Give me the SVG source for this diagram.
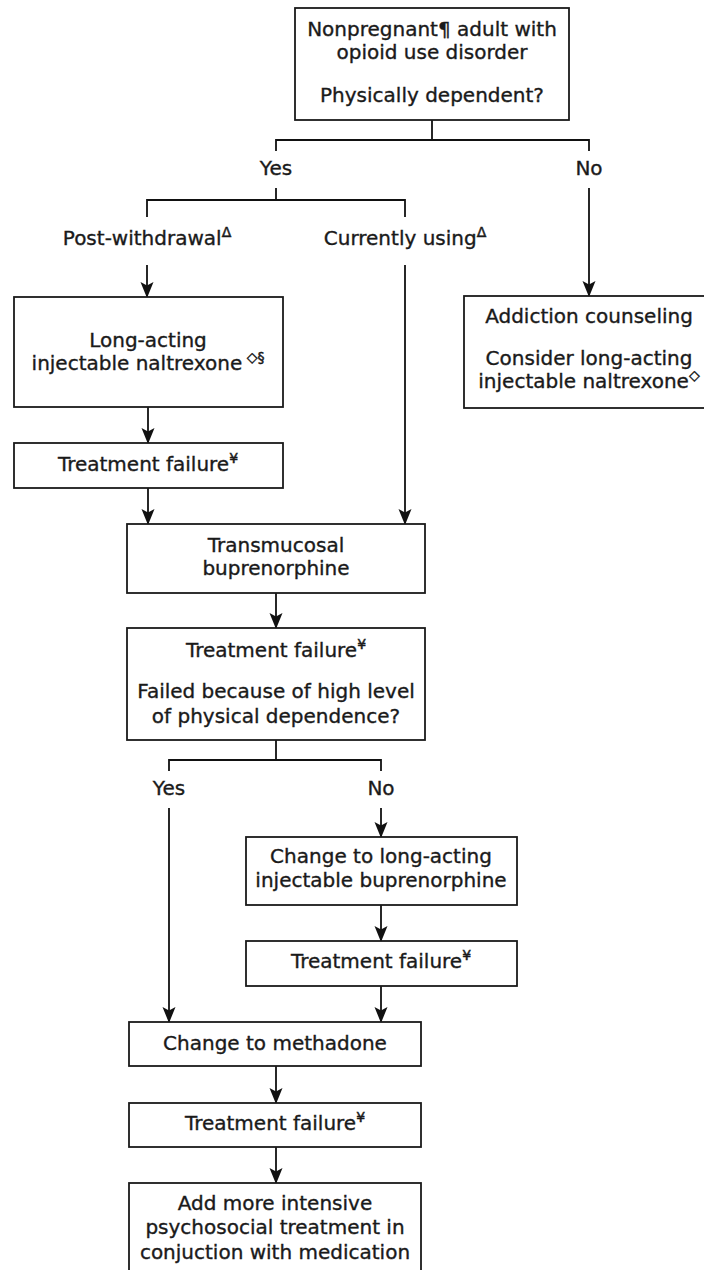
<svg xmlns="http://www.w3.org/2000/svg" width="704" height="1270" viewBox="0 0 704 1270">
<defs>
<style>
.box{fill:#fff;stroke:#1a1a1a;stroke-width:1.8}
.ln{fill:none;stroke:#111;stroke-width:1.8}
.t{font-family:"DejaVu Sans",Verdana,sans-serif;font-size:20px;fill:#1a1a1a;stroke:#1a1a1a;stroke-width:0.35;text-anchor:middle}
.s{font-size:14px;stroke-width:0.5}
</style>
<marker id="ah" markerUnits="userSpaceOnUse" viewBox="0 0 16 14" refX="15" refY="7" markerWidth="16" markerHeight="14" orient="auto">
<path d="M0,0.5 L16,7 L0,13.5 L3.5,7 z" fill="#111"/>
</marker>
</defs>
<rect width="704" height="1270" fill="#fff"/>
<g id="connectors">
<path class="ln" d="M432,120 V140 M276,151 V140 H589 V151"/>
<path class="ln" d="M276,188 V200 M147,217 V200 H405 V217"/>
<path class="ln" d="M589,188 V296" marker-end="url(#ah)"/>
<path class="ln" d="M147,265 V297" marker-end="url(#ah)"/>
<path class="ln" d="M405,265 V524" marker-end="url(#ah)"/>
<path class="ln" d="M148,407 V443" marker-end="url(#ah)"/>
<path class="ln" d="M148,488 V524" marker-end="url(#ah)"/>
<path class="ln" d="M276,593 V628" marker-end="url(#ah)"/>
<path class="ln" d="M276,740 V760 M169,771 V760 H381 V771"/>
<path class="ln" d="M169,808 V1022" marker-end="url(#ah)"/>
<path class="ln" d="M381,808 V837" marker-end="url(#ah)"/>
<path class="ln" d="M381,905 V941" marker-end="url(#ah)"/>
<path class="ln" d="M381,986 V1022" marker-end="url(#ah)"/>
<path class="ln" d="M276,1066 V1103" marker-end="url(#ah)"/>
<path class="ln" d="M276,1147 V1183" marker-end="url(#ah)"/>
</g>
<g id="start">
<rect class="box" x="295" y="8" width="274" height="112"/>
<text class="t" x="432" y="36">Nonpregnant¶ adult with</text>
<text class="t" x="432" y="59">opioid use disorder</text>
<text class="t" x="432" y="102">Physically dependent?</text>
</g>
<g id="yes1"><text class="t" x="276" y="175">Yes</text></g>
<g id="no1"><text class="t" x="589" y="175">No</text></g>
<g id="postwithdrawal"><text class="t" x="147" y="245">Post-withdrawal<tspan class="s" dy="-8">Δ</tspan></text></g>
<g id="currentlyusing"><text class="t" x="405" y="245">Currently using<tspan class="s" dy="-8">Δ</tspan></text></g>
<g id="naltrexone">
<rect class="box" x="14" y="297" width="269" height="110"/>
<text class="t" x="148" y="347">Long-acting</text>
<text class="t" x="148" y="370">injectable naltrexone<tspan class="s" dy="-8"> ◇§</tspan></text>
</g>
<g id="counseling">
<rect class="box" x="464" y="296" width="250" height="112"/>
<text class="t" x="589" y="323">Addiction counseling</text>
<text class="t" x="589" y="365">Consider long-acting</text>
<text class="t" x="589" y="388">injectable naltrexone<tspan class="s" dy="-8">◇</tspan></text>
</g>
<g id="failure1">
<rect class="box" x="14" y="443" width="269" height="45"/>
<text class="t" x="148" y="471">Treatment failure<tspan class="s" dy="-8">¥</tspan></text>
</g>
<g id="transmucosal">
<rect class="box" x="127" y="524" width="298" height="69"/>
<text class="t" x="276" y="552">Transmucosal</text>
<text class="t" x="276" y="575">buprenorphine</text>
</g>
<g id="failure2">
<rect class="box" x="127" y="628" width="298" height="112"/>
<text class="t" x="276" y="657">Treatment failure<tspan class="s" dy="-8">¥</tspan></text>
<text class="t" x="276" y="698">Failed because of high level</text>
<text class="t" x="276" y="723">of physical dependence?</text>
</g>
<g id="yes2"><text class="t" x="169" y="795">Yes</text></g>
<g id="no2"><text class="t" x="381" y="795">No</text></g>
<g id="lai-bup">
<rect class="box" x="246" y="837" width="271" height="68"/>
<text class="t" x="381" y="863">Change to long-acting</text>
<text class="t" x="381" y="887">injectable buprenorphine</text>
</g>
<g id="failure3">
<rect class="box" x="246" y="941" width="271" height="45"/>
<text class="t" x="381" y="968">Treatment failure<tspan class="s" dy="-8">¥</tspan></text>
</g>
<g id="methadone">
<rect class="box" x="129" y="1022" width="292" height="44"/>
<text class="t" x="275" y="1050">Change to methadone</text>
</g>
<g id="failure4">
<rect class="box" x="129" y="1103" width="292" height="44"/>
<text class="t" x="275" y="1130">Treatment failure<tspan class="s" dy="-8">¥</tspan></text>
</g>
<g id="psychosocial">
<rect class="box" x="129" y="1183" width="292" height="90"/>
<text class="t" x="275" y="1210">Add more intensive</text>
<text class="t" x="275" y="1234">psychosocial treatment in</text>
<text class="t" x="275" y="1259">conjuction with medication</text>
</g>
</svg>
